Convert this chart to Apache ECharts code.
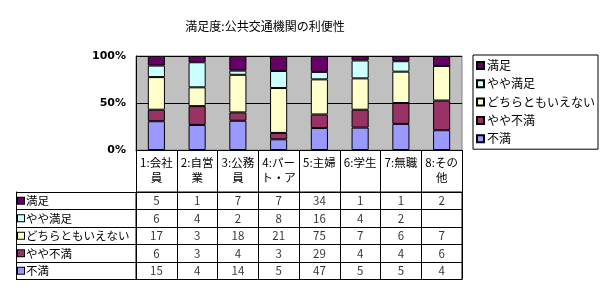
<!DOCTYPE html>
<html><head><meta charset="utf-8">
<script src="https://cdn.jsdelivr.net/npm/echarts@6/dist/echarts.min.js"></script>
<style>html,body{margin:0;padding:0;background:#fff}#c{width:603px;height:296px}</style>
</head><body><div id="c"></div>
<script>
var categories = ['1:会社\n員','2:自営\n業','3:公務\n員','4:パー\nト・ア','5:主婦','6:学生','7:無職','8:その\n他'];
var seriesNames = ['満足','やや満足','どちらともいえない','やや不満','不満'];
var manzoku      = [5, 1, 7, 7, 34, 1, 1, 2];
var yayaManzoku  = [6, 4, 2, 8, 16, 4, 2, null];
var dochiramo    = [17, 3, 18, 21, 75, 7, 6, 7];
var yayaFuman    = [6, 3, 4, 3, 29, 4, 4, 6];
var fuman        = [15, 4, 14, 5, 47, 5, 5, 4];
var yTicks = ['0%','50%','100%'];
var colors = ['#660066','#CCFFFF','#FFFFCC','#993366','#9999FF'];

var rows = [manzoku, yayaManzoku, dochiramo, yayaFuman, fuman];
var totals = categories.map(function(_, j){
  return rows.reduce(function(s, r){ return s + (r[j] || 0); }, 0);
});
var FONT = '"Noto Sans CJK JP", sans-serif';

// stacked bars: bottom first (不満 ... 満足)
var barSeries = [];
for (var i = rows.length - 1; i >= 0; i--) {
  (function(i){
    barSeries.push({
      name: seriesNames[i], type: 'bar', stack: 'all', xAxisIndex: 0, yAxisIndex: 0,
      barWidth: '42%',
      itemStyle: { color: colors[i], borderColor: '#000', borderWidth: 1 },
      data: rows[i].map(function(v, j){ return v == null ? 0 : v / totals[j] * 100; })
    });
  })(i);
}
var cellData = [];
rows.forEach(function(r, i){
  r.forEach(function(v, j){ if (v != null) cellData.push([j, i, v]); });
});

var rich = {};
colors.forEach(function(c, i){
  rich['s' + i] = { backgroundColor: c, borderColor: '#000', borderWidth: 1, width: 6, height: 6 };
});
rich.t = { fontSize: 11.5, fontFamily: FONT, color: '#000', padding: [0,0,0,2] };

var chart = echarts.init(document.getElementById('c'), null, { renderer: 'canvas' });
chart.setOption({
  animation: false,
  title: { text: '満足度:公共交通機関の利便性', left: 260, top: 15, textAlign: 'center',
    textStyle: { fontSize: 12, fontWeight: 'normal', fontFamily: FONT, color: '#000' } },
  legend: {
    orient: 'vertical', left: 473, top: 55, data: seriesNames,
    icon: 'rect', itemWidth: 7, itemHeight: 7, itemGap: 5.3,
    borderColor: '#000', borderWidth: 1, padding: [4, 3, 4, 3],
    textStyle: { fontSize: 12, fontFamily: FONT, color: '#000', padding: [0,0,0,-2], lineHeight: 13 }
  },
  grid: [
    { left: 136, top: 56, width: 326, height: 94, show: true, backgroundColor: '#C0C0C0', borderColor: '#808080', borderWidth: 1 },
    { left: 136, top: 192, width: 326, height: 87.5, show: true, backgroundColor: 'transparent', borderColor: '#000', borderWidth: 1 }
  ],
  xAxis: [
    { type: 'category', gridIndex: 0, data: categories, boundaryGap: true,
      axisLine: { lineStyle: { color: '#000', width: 1 } },
      axisTick: { show: true, inside: false, length: 42, interval: 0, lineStyle: { color: '#000' } },
      axisLabel: { interval: 0, margin: 5, fontSize: 11.5, lineHeight: 15, fontFamily: FONT, color: '#000', verticalAlign: 'top' } },
    { type: 'category', gridIndex: 1, data: categories, boundaryGap: true,
      axisLine: { show: false }, axisTick: { show: false }, axisLabel: { show: false },
      splitLine: { show: true, interval: 0, lineStyle: { color: '#000' } } }
  ],
  yAxis: [
    { type: 'value', gridIndex: 0, min: 0, max: 100, interval: 50,
      axisLine: { show: true, lineStyle: { color: '#000' } },
      axisTick: { show: false },
      splitLine: { show: true, lineStyle: { color: '#000' } },
      axisLabel: { margin: 10, fontSize: 11, fontWeight: 'bold', fontFamily: '"DejaVu Sans", sans-serif', color: '#000',
        formatter: function(v){ return yTicks[Math.round(v / 50)]; } } },
    { type: 'category', gridIndex: 1, data: seriesNames, inverse: true, boundaryGap: true,
      axisLine: { show: true, lineStyle: { color: '#000' } },
      axisTick: { show: true, inside: false, length: 120, interval: 0, lineStyle: { color: '#000' } },
      splitLine: { show: true, interval: 0, lineStyle: { color: '#000' } },
      axisLabel: { interval: 0, margin: 118, align: 'left',
        formatter: function(v, idx){ return '{s' + idx + '|}{t|' + v + '}'; }, rich: rich } },
    { type: 'category', gridIndex: 1, data: seriesNames, position: 'left', offset: 120,
      axisLine: { show: true, lineStyle: { color: '#000' } },
      axisTick: { show: false }, axisLabel: { show: false } }
  ],
  series: barSeries.concat([{
    type: 'scatter', xAxisIndex: 1, yAxisIndex: 1, symbolSize: 0, silent: true,
    data: cellData,
    label: { show: true, position: 'inside', formatter: function(p){ return p.value[2]; },
      fontSize: 11.5, fontFamily: FONT, color: '#000' }
  }])
});
</script></body></html>
